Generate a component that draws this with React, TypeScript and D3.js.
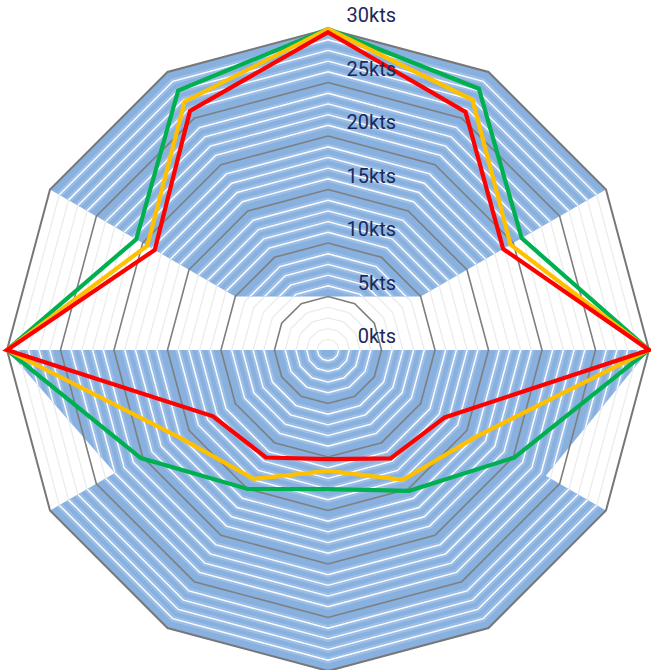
import React from "react";
import * as d3 from "d3";

const directions = [0, 30, 60, 90, 120, 150, 180, 210, 240, 270, 300, 330];
const greenValues = [30, 28.2, 20.9, 30, 20.1, 15.2, 13.0, 15.0, 20.2, 30, 20.7, 28.0];
const yellowValues = [30, 27.0, 19.7, 30, 16.1, 14.0, 11.3, 13.9, 16.2, 30, 19.5, 26.8];
const redValues = [29.7, 25.7, 18.9, 30, 12.6, 11.7, 10.2, 11.6, 12.4, 30, 18.7, 25.8];
const tickValues = [0, 5, 10, 15, 20, 25, 30];
const tickLabels = ["0kts", "5kts", "10kts", "15kts", "20kts", "25kts", "30kts"];
// shaded (blue) zones as [direction, kts]
const blueTop: [number, number][] = [[300, 30], [330, 30], [0, 30], [30, 30], [60, 30], [60, 10], [300, 10]];
const blueBottom: [number, number][] = [[90, 30], [120, 23.5], [120, 30], [150, 30], [180, 30], [210, 30], [240, 30], [240, 23], [270, 30]];

const W = 651, H = 670;
const cx = 328, cy = 350, R = 321;
const rScale = d3.scaleLinear().domain([0, 30]).range([0, R]);

function pt(deg: number, v: number): [number, number] {
  const a = (deg * Math.PI) / 180;
  const r = rScale(v);
  return [cx + r * Math.sin(a), cy - r * Math.cos(a)];
}

const lineGen = d3.line<[number, number]>().curve(d3.curveLinearClosed);

function ringPath(v: number) {
  return lineGen(directions.map((d) => pt(d, v)))!;
}
function seriesPath(vals: number[]) {
  return lineGen(directions.map((d, i) => pt(d, vals[i])))!;
}
function zonePath(z: [number, number][]) {
  return lineGen(z.map(([d, v]) => pt(d, v)))!;
}

export default function App() {
  const minor = d3.range(1, 30).filter((v) => v % 5 !== 0);
  const major = [5, 10, 15, 20, 25];
  return (
    <svg width={W} height={H} style={{ position: "absolute", left: 0, top: 0 }}>
      <defs>
        <clipPath id="blueClip">
          <path d={zonePath(blueTop)} />
          <path d={zonePath(blueBottom)} />
        </clipPath>
      </defs>
      <path d={ringPath(30)} fill="#ffffff" />
      {minor.map((v) => (
        <path key={"f" + v} d={ringPath(v)} fill="none" stroke="#ececec" strokeWidth={1.3} />
      ))}
      <path d={zonePath(blueTop)} fill="#88b1df" />
      <path d={zonePath(blueBottom)} fill="#88b1df" />
      <g clipPath="url(#blueClip)">
        {minor.map((v) => (
          <path key={"h" + v} d={ringPath(v)} fill="none" stroke="#aecbec" strokeWidth={6} opacity={0.55} />
        ))}
        {minor.map((v) => (
          <path key={"w" + v} d={ringPath(v)} fill="none" stroke="#ffffff" strokeWidth={1.4} />
        ))}
      </g>
      {major.map((v) => (
        <path key={"m" + v} d={ringPath(v)} fill="none" stroke="#7f7f7f" strokeWidth={1.6} />
      ))}
      <path d={ringPath(30)} fill="none" stroke="#777777" strokeWidth={2} />
      <path d={seriesPath(greenValues)} fill="none" stroke="#00b050" strokeWidth={4.2} strokeLinejoin="miter" />
      <path d={seriesPath(yellowValues)} fill="none" stroke="#ffc000" strokeWidth={4.2} strokeLinejoin="miter" />
      <path d={seriesPath(redValues)} fill="none" stroke="#ff0000" strokeWidth={4.2} strokeLinejoin="miter" />
      {tickValues.map((v, i) => (
        <text
          key={"t" + v}
          x={396}
          y={cy - rScale(v) - 7}
          textAnchor="end"
          fontFamily="Roboto, sans-serif"
          fontSize={20}
          fill="#1b2a5c"
        >
          {tickLabels[i]}
        </text>
      ))}
    </svg>
  );
}
